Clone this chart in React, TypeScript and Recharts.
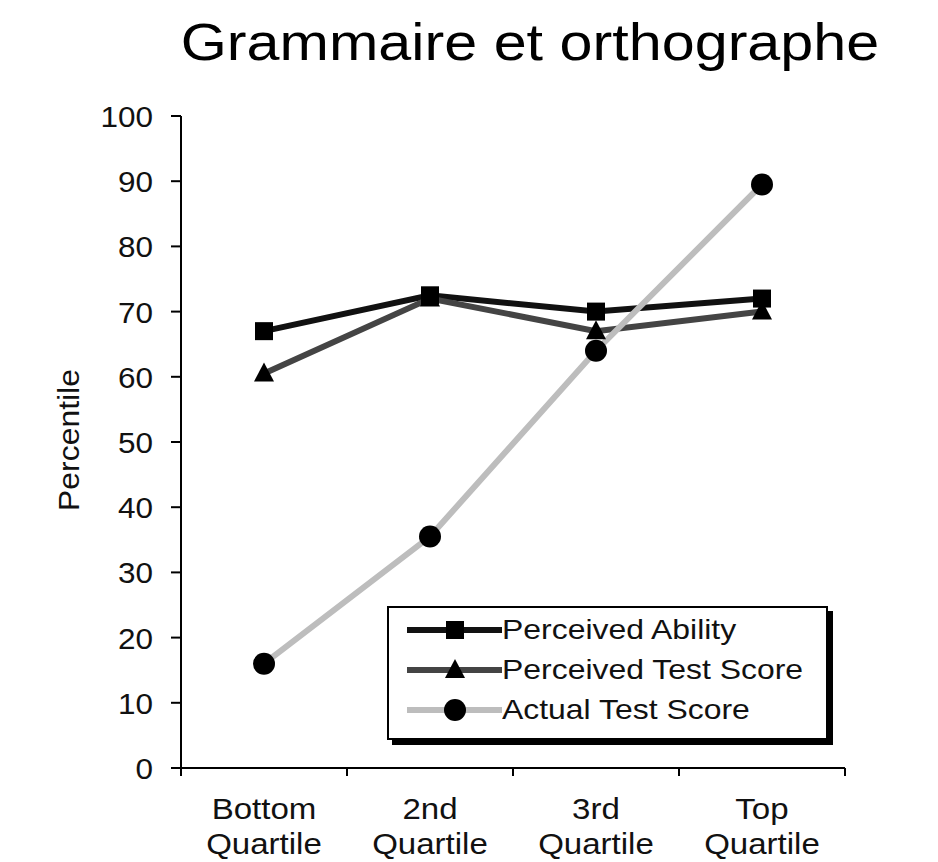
import { LineChart, Line, XAxis, YAxis, Legend } from 'recharts'

const categories = ['Bottom Quartile', '2nd Quartile', '3rd Quartile', 'Top Quartile']
const perceivedAbility = [67, 72.5, 70, 72]
const perceivedTestScore = [60.5, 72, 67, 70]
const actualTestScore = [16, 35.5, 64, 89.5]
const yTicks = [0, 10, 20, 30, 40, 50, 60, 70, 80, 90, 100]
// boundaries between quartiles (tick marks) and centres (labels)
const xTicks = [0, 0.5, 1, 1.5, 2, 2.5, 3, 3.5, 4]

const FONT = '"Liberation Sans", Arial, Helvetica, sans-serif'
const ABILITY_COLOR = '#111111'
const TEST_COLOR = '#444444'
const ACTUAL_COLOR = '#bdbdbd'
// the scanned original uses a slightly wider type than Arial
const WIDE = 1.14

const data = categories.map((name, i) => ({
  pos: i + 0.5,
  name,
  ability: perceivedAbility[i],
  test: perceivedTestScore[i],
  actual: actualTestScore[i],
}))

function SquareDot(props: any) {
  const { cx, cy, index } = props
  return <rect key={`sq-${index}`} x={cx - 9} y={cy - 9} width={18} height={18} fill="#000" />
}

function TriangleDot(props: any) {
  const { cx, cy, index } = props
  return (
    <polygon
      key={`tri-${index}`}
      points={`${cx},${cy - 11} ${cx + 10},${cy + 8} ${cx - 10},${cy + 8}`}
      fill="#000"
    />
  )
}

function CircleDot(props: any) {
  const { cx, cy, index } = props
  return <circle key={`ci-${index}`} cx={cx} cy={cy} r={11} fill="#000" />
}

function XTick(props: any) {
  const { x, y, payload } = props
  const v = payload.value as number
  if (Number.isInteger(v)) {
    return <line x1={x} x2={x} y1={y - 8} y2={y} stroke="#000" strokeWidth={2} />
  }
  const label = categories[Math.floor(v)] || ''
  const [first, second] = label.split(' ')
  return (
    <text
      x={x}
      y={y}
      textAnchor="middle"
      fontFamily={FONT}
      fontSize={29}
      fill="#111"
      transform={`translate(${x},0) scale(${WIDE},1) translate(${-x},0)`}
    >
      <tspan x={x} dy={43}>{first}</tspan>
      <tspan x={x} dy={35}>{second}</tspan>
    </text>
  )
}

function YTick(props: any) {
  const { x, y, payload } = props
  return (
    <text x={x} y={y} dy={11} textAnchor="end" fontFamily={FONT} fontSize={30} fill="#111"
      transform={`translate(${x},0) scale(1.05,1) translate(${-x},0)`}>
      {payload.value}
    </text>
  )
}

const legendItems = [
  { label: 'Perceived Ability', color: ABILITY_COLOR, marker: 'square' },
  { label: 'Perceived Test Score', color: TEST_COLOR, marker: 'triangle' },
  { label: 'Actual Test Score', color: ACTUAL_COLOR, marker: 'circle' },
]

function LegendBox() {
  return (
    <div
      style={{
        width: 437,
        height: 128,
        border: '2px solid #000',
        boxShadow: '5px 5px 0 #000',
        background: '#fff',
        paddingTop: 2,
        boxSizing: 'content-box',
        fontFamily: FONT,
      }}
    >
      {legendItems.map((it) => (
        <div key={it.label} style={{ display: 'flex', alignItems: 'center', height: 40, paddingLeft: 18 }}>
          <svg width={95} height={30}>
            <line x1={0} x2={95} y1={15} y2={15} stroke={it.color} strokeWidth={6} />
            {it.marker === 'square' && <rect x={39} y={6} width={18} height={18} fill="#000" />}
            {it.marker === 'triangle' && <polygon points="48,4 58,23 38,23" fill="#000" />}
            {it.marker === 'circle' && <circle cx={48} cy={15} r={11} fill="#000" />}
          </svg>
          <span
            style={{
              display: 'inline-block',
              fontSize: 28,
              color: '#111',
              lineHeight: 1,
              transform: `scaleX(${WIDE})`,
              transformOrigin: 'left center',
            }}
          >
            {it.label}
          </span>
        </div>
      ))}
    </div>
  )
}

export default function App() {
  return (
    <div style={{ position: 'absolute', left: 0, top: 0, width: 938, height: 862, background: '#fff' }}>
      <div
        style={{
          position: 'absolute',
          left: 0,
          width: 1060,
          top: 16,
          textAlign: 'center',
          fontFamily: FONT,
          fontSize: 52,
          lineHeight: 1,
          color: '#000',
          transform: `scaleX(${WIDE})`,
          transformOrigin: 'center',
        }}
      >
        Grammaire et orthographe
      </div>
      <LineChart
        width={938}
        height={862}
        data={data}
        margin={{ top: 116, right: 93, left: 81, bottom: 14 }}
      >
        <XAxis
          dataKey="pos"
          type="number"
          domain={[0, 4]}
          ticks={xTicks}
          interval={0}
          tick={<XTick />}
          tickLine={false}
          tickSize={8}
          tickMargin={0}
          axisLine={{ stroke: '#000', strokeWidth: 2 }}
          height={80}
        />
        <YAxis
          type="number"
          domain={[0, 100]}
          ticks={yTicks}
          interval={0}
          width={100}
          tickSize={10}
          tickMargin={18}
          axisLine={{ stroke: '#000', strokeWidth: 2 }}
          tickLine={{ stroke: '#000', strokeWidth: 2 }}
          tick={<YTick />}
          label={{
            content: () => (
              <text
                x={0}
                y={0}
                transform="translate(79, 440) rotate(-90) scale(1.1,1)"
                textAnchor="middle"
                fontFamily={FONT}
                fontSize={29}
                fill="#111"
              >
                Percentile
              </text>
            ),
          }}
        />
        <Legend
          layout="horizontal"
          verticalAlign="middle"
          align="center"
          content={<LegendBox />}
          wrapperStyle={{ position: 'absolute', left: 387, top: 606, width: 441, height: 135 }}
        />
        <Line
          type="linear"
          dataKey="ability"
          stroke={ABILITY_COLOR}
          strokeWidth={6}
          dot={SquareDot}
          activeDot={false}
          isAnimationActive={false}
        />
        <Line
          type="linear"
          dataKey="test"
          stroke={TEST_COLOR}
          strokeWidth={6}
          dot={TriangleDot}
          activeDot={false}
          isAnimationActive={false}
        />
        <Line
          type="linear"
          dataKey="actual"
          stroke={ACTUAL_COLOR}
          strokeWidth={6}
          dot={CircleDot}
          activeDot={false}
          isAnimationActive={false}
        />
      </LineChart>
    </div>
  )
}
